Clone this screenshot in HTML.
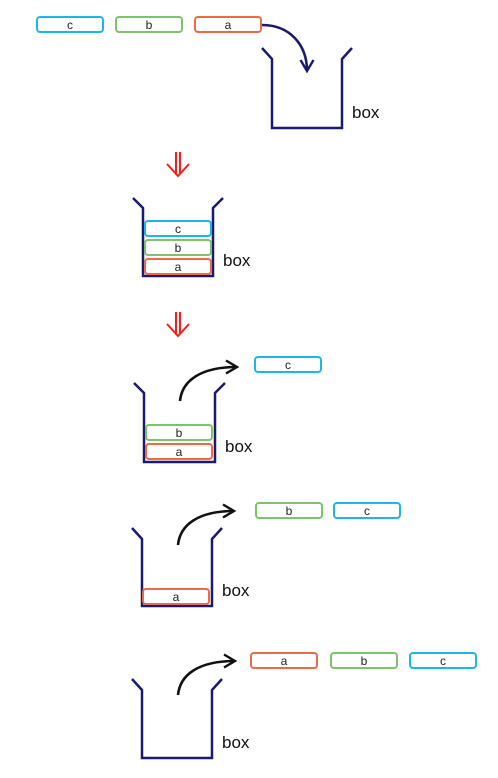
<!DOCTYPE html>
<html><head><meta charset="utf-8"><style>
html,body{margin:0;padding:0;background:#fff;width:498px;height:778px;overflow:hidden}
svg{display:block}
text{font-family:"Liberation Sans",sans-serif}
</style></head><body>
<svg width="498" height="778" viewBox="0 0 498 778">
<defs>
<marker id="ah" viewBox="0 0 16 16" refX="13" refY="8" markerWidth="16" markerHeight="16" markerUnits="userSpaceOnUse" orient="auto"><path d="M2,1.5 L13,8 L2,14.5" fill="none" stroke="context-stroke" stroke-width="2.4"/></marker>
</defs>
<g id="root"></g>
</svg>
<script>
const NS='http://www.w3.org/2000/svg';
const root=document.getElementById('root');
const COL={a:'#ec6a45',b:'#7cc46a',c:'#1ab8ea'};
function el(t,a,p){const e=document.createElementNS(NS,t);for(const k in a)e.setAttribute(k,a[k]);(p||root).appendChild(e);return e;}
function pill(x,y,l,w){
 const g=el('g',{});
 
 
 el('rect',{x:x,y:y,width:w||66,height:15,rx:3,fill:'#fff',stroke:COL[l],'stroke-width':2},g);
 const t=el('text',{x:x+(w||66)/2,y:y+12,'text-anchor':'middle','font-size':12,fill:'#222'},g);t.textContent=l;
}
function box(lx,rx,top,bot,lip){
 const g=el('g',{});
 
 
 el('path',{d:`M${lx-10},${top-lip} L${lx},${top} L${lx},${bot} L${rx},${bot} L${rx},${top} L${rx+10},${top-lip}`,fill:'none',stroke:'#1a1a6e','stroke-width':2.5},g);
 const t=el('text',{x:rx+10,y:bot-10,'font-size':17,fill:'#111'},g);t.textContent='box';
}
function redArrow(cx,y){
 const g=el('g',{stroke:'#ff1a1a','stroke-width':2,fill:'none'});
 
 
 el('path',{d:`M${cx-2},${y} V${y+22} M${cx+2},${y} V${y+22} M${cx-11},${y+12} L${cx},${y+24} L${cx+11},${y+12}`},g);
}
function curve(x0,y0,x1,y1,color,d){
 const p=el('path',{d:d||`M${x0},${y0} C${x0+2},${y0-20} ${x0+20},${y1} ${x1},${y1}`,fill:'none',stroke:color,'stroke-width':2.6,'marker-end':'url(#ah)'});
 
 
}
// step 1
pill(37,17,'c');pill(116,17,'b');pill(195,17,'a');
box(272,342,59,128,11);
curve(0,0,0,0,'#1a1a6e','M262,25 C290,25 307,45 307,71');
redArrow(178,152);
// step 2
box(143,213,208,276,10);
pill(145,221,'c');pill(145,240,'b');pill(145,259,'a');
redArrow(178,312);
// step 3
box(144,215,393,462,10);
pill(146,425,'b');pill(146,444,'a');
curve(180,401,237,367,'#111');
pill(255,357,'c');
// step 4
box(142,212,539,606,11);
pill(143,589,'a');
curve(178,545,234,511,'#111');
pill(256,503,'b');pill(334,503,'c');
// step 5
box(142,212,690,758,11);
curve(178,695,235,661,'#111');
pill(251,653,'a');pill(331,653,'b');pill(410,653,'c');
</script>
</body></html>
